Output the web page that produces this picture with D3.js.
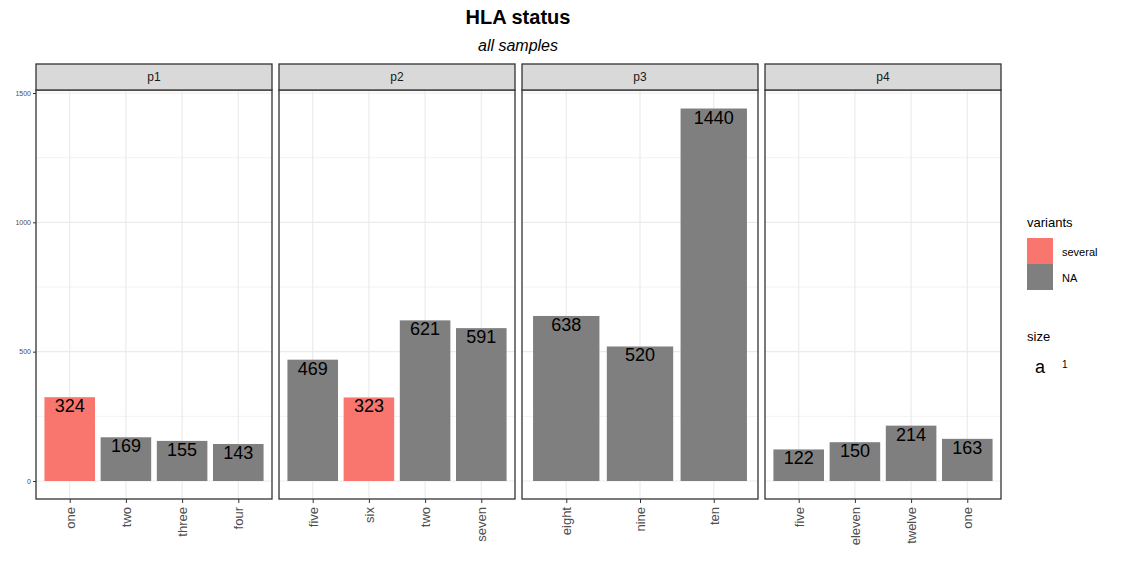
<!DOCTYPE html>
<html>
<head>
<meta charset="utf-8">
<script src="https://cdn.jsdelivr.net/npm/d3@7"></script>
<style>
  body { margin: 0; background: #fff; }
  text { font-family: "Liberation Sans", Arial, sans-serif; }
</style>
</head>
<body>
<div id="vis"></div>
<script>
// data, one array per facet
const panels = ['p1', 'p2', 'p3', 'p4'];
const categories = [
  ['one', 'two', 'three', 'four'],
  ['five', 'six', 'two', 'seven'],
  ['eight', 'nine', 'ten'],
  ['five', 'eleven', 'twelve', 'one']
];
const counts = [
  [324, 169, 155, 143],
  [469, 323, 621, 591],
  [638, 520, 1440],
  [122, 150, 214, 163]
];
const variants = [
  ['several', 'NA', 'NA', 'NA'],
  ['NA', 'several', 'NA', 'NA'],
  ['NA', 'NA', 'NA'],
  ['NA', 'NA', 'NA', 'NA']
];
const yTicks = [0, 500, 1000, 1500];
const yMinor = [250, 750, 1250];

const width = 1125, height = 563;
const colour = d3.scaleOrdinal().domain(['several', 'NA']).range(['#F8766D', '#7F7F7F']);

const svg = d3.select('#vis').append('svg')
  .attr('width', width)
  .attr('height', height);

// title
svg.append('text')
  .attr('x', 518).attr('y', 24)
  .attr('text-anchor', 'middle')
  .style('font-size', '20px').style('font-weight', 'bold')
  .text('HLA status');
svg.append('text')
  .attr('x', 518).attr('y', 51)
  .attr('text-anchor', 'middle')
  .style('font-size', '16px').style('font-style', 'italic')
  .text('all samples');

const stripTop = 64, stripH = 26;
const panelTop = 90, panelBottom = 499;
const panelLeft = [36, 279, 522, 765];
const panelW = 236;

const yScale = d3.scaleLinear().domain([0, 1500]).range([481, 93]);

panels.forEach((p, k) => {
  const x0 = panelLeft[k];
  const cats = categories[k];
  const n = cats.length;
  // ggplot-ish discrete expansion of 0.6 each side
  const unit = panelW / (n - 1 + 1.2);
  const xScale = d3.scalePoint().domain(cats).range([x0 + 0.6 * unit, x0 + panelW - 0.6 * unit]);
  const bw = unit * 0.9;

  const g = svg.append('g');

  // grid
  g.selectAll('line.minor').data(yMinor).enter().append('line')
    .attr('x1', x0).attr('x2', x0 + panelW)
    .attr('y1', d => yScale(d)).attr('y2', d => yScale(d))
    .attr('stroke', '#f2f2f2').attr('stroke-width', 1);
  g.selectAll('line.major').data(yTicks).enter().append('line')
    .attr('x1', x0).attr('x2', x0 + panelW)
    .attr('y1', d => yScale(d)).attr('y2', d => yScale(d))
    .attr('stroke', '#ebebeb').attr('stroke-width', 1.2);
  g.selectAll('line.vgrid').data(cats).enter().append('line')
    .attr('x1', d => xScale(d)).attr('x2', d => xScale(d))
    .attr('y1', panelTop).attr('y2', panelBottom)
    .attr('stroke', '#ebebeb').attr('stroke-width', 1.2);

  // bars
  g.selectAll('rect.bar').data(counts[k]).enter().append('rect')
    .attr('x', (d, i) => xScale(cats[i]) - bw / 2)
    .attr('width', bw)
    .attr('y', d => yScale(d))
    .attr('height', d => yScale(0) - yScale(d))
    .attr('fill', (d, i) => colour(variants[k][i]));

  // value labels
  g.selectAll('text.val').data(counts[k]).enter().append('text')
    .attr('x', (d, i) => xScale(cats[i]))
    .attr('y', d => yScale(d) + 15)
    .attr('text-anchor', 'middle')
    .style('font-size', '18px')
    .attr('fill', '#000')
    .text(d => d);

  // panel border
  g.append('rect')
    .attr('x', x0).attr('y', panelTop)
    .attr('width', panelW).attr('height', panelBottom - panelTop)
    .attr('fill', 'none').attr('stroke', '#333').attr('stroke-width', 1.3);

  // strip
  g.append('rect')
    .attr('x', x0).attr('y', stripTop)
    .attr('width', panelW).attr('height', stripH)
    .attr('fill', '#d9d9d9').attr('stroke', '#333').attr('stroke-width', 1.3);
  g.append('text')
    .attr('x', x0 + panelW / 2).attr('y', stripTop + 17)
    .attr('text-anchor', 'middle')
    .style('font-size', '12px').attr('fill', '#1a1a1a')
    .text(p);

  // x axis
  const xAxis = g.append('g')
    .attr('transform', 'translate(0,' + panelBottom + ')')
    .call(d3.axisBottom(xScale).tickSize(4).tickPadding(4));
  xAxis.select('.domain').remove();
  xAxis.selectAll('line').attr('stroke', '#333');
  xAxis.selectAll('text')
    .attr('transform', 'rotate(-90)')
    .attr('x', -8).attr('y', 0).attr('dy', '0.35em')
    .attr('text-anchor', 'end')
    .style('font-size', '13px').attr('fill', '#4d4d4d')
    .style('font-family', '"Liberation Sans", Arial, sans-serif');

  // y axis only on first panel
  if (k === 0) {
    const yAxis = g.append('g')
      .attr('transform', 'translate(' + x0 + ',0)')
      .call(d3.axisLeft(yScale).tickValues(yTicks).tickFormat(d3.format('d')).tickSize(3).tickPadding(2));
    yAxis.select('.domain').remove();
    yAxis.selectAll('line').attr('stroke', '#333');
    yAxis.selectAll('text')
      .style('font-size', '7px').attr('fill', '#4d4d4d')
      .style('font-family', '"Liberation Sans", Arial, sans-serif');
  }
});

// legend
const leg = svg.append('g').attr('transform', 'translate(1027,0)');
leg.append('text').attr('x', 0).attr('y', 227)
  .style('font-size', '13px').text('variants');
['several', 'NA'].forEach((v, i) => {
  leg.append('rect')
    .attr('x', 0).attr('y', 238 + i * 26)
    .attr('width', 26).attr('height', 26)
    .attr('fill', colour(v));
  leg.append('text')
    .attr('x', 35).attr('y', 256 + i * 26)
    .style('font-size', '11px').text(v);
});
leg.append('text').attr('x', 0).attr('y', 341)
  .style('font-size', '13px').text('size');
leg.append('text').attr('x', 13).attr('y', 373)
  .attr('text-anchor', 'middle')
  .style('font-size', '18px').text('a');
leg.append('text').attr('x', 35).attr('y', 368)
  .style('font-size', '10px').text('1');
</script>
</body>
</html>
